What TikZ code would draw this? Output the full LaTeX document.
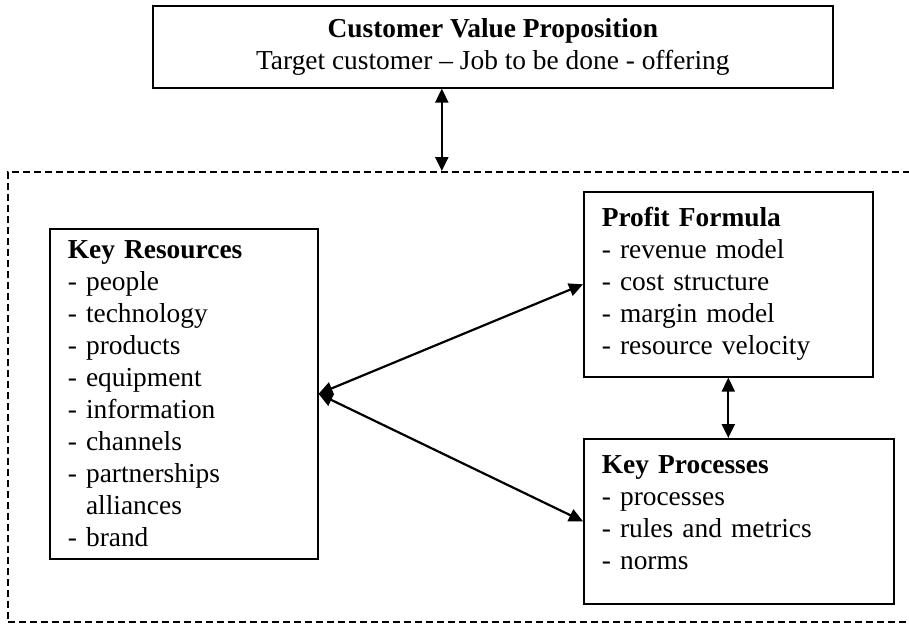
\documentclass[tikz,border=0pt]{standalone}
\usepackage{fontspec}
\setmainfont{Liberation Serif}
\usetikzlibrary{arrows.meta,positioning}

\tikzset{
  block/.style={draw, line width=1.6pt, rectangle, anchor=north west, align=left,
    inner xsep=18pt, inner ysep=0pt},
  frame/.style={draw, line width=1.6pt, dash pattern=on 7pt off 4pt, anchor=north west,
    inner sep=0pt},
  link/.style={line width=2.2pt, {Triangle[length=14pt,width=13pt]}-{Triangle[length=14pt,width=13pt]}}
}

\begin{document}
\begin{tikzpicture}[x=1pt, y=-1pt, font=\fontsize{27.4}{32}\selectfont]
\useasboundingbox (0,0) rectangle (909,624);

% the business model frame
\node (model) [frame, minimum width=908pt, minimum height=450pt] at (7,171) {};

% value proposition
\node (cvp) [block, align=center, minimum width=680pt, minimum height=82pt] at (152,5)
  {\textbf{Customer Value Proposition}\\Target customer -- Job to be done - offering};

% the three parts
\node (resources) [block, text width=232pt, minimum height=330pt] at (49,228)
  {\textbf{Key Resources}\\- people\\- technology\\- products\\- equipment\\- information\\- channels\\- partnerships\\\phantom{- }alliances\\- brand};
\node (profit) [block, text width=253pt, minimum height=185pt] at (583,191)
  {\textbf{Profit Formula}\\- revenue model\\- cost structure\\- margin model\\- resource velocity};
\node (processes) [block, text width=274pt, minimum height=165pt] at (583,438)
  {\textbf{Key Processes}\\- processes\\- rules and metrics\\- norms\\[-14pt]\mbox{}};

% connectors
\draw [link] ([xshift=-51pt]cvp.south) -- ([xshift=-51pt]cvp.south |- model.north);
\draw [link] (resources.east) -- (profit.west);
\draw [link] (resources.east) -- (processes.west);
\draw [link] (profit.south) -- (profit.south |- processes.north);
\end{tikzpicture}
\end{document}
